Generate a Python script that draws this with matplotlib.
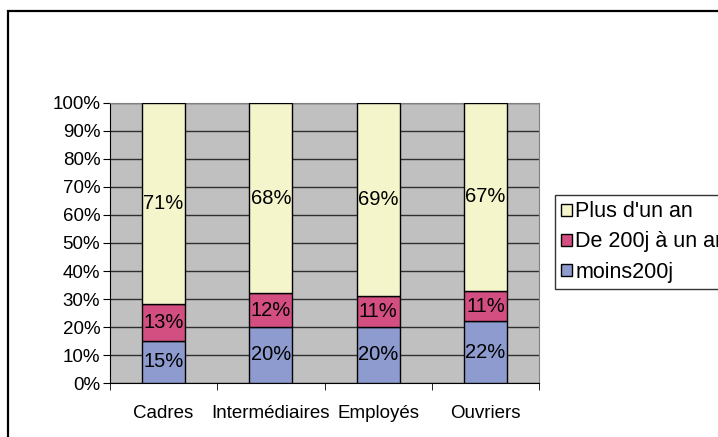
import numpy as np
import matplotlib.pyplot as plt
from matplotlib.patches import Rectangle

categories = ['Cadres', 'Interm\u00e9diaires', 'Employ\u00e9s', 'Ouvriers']
moins200j = [15, 20, 20, 22]
de200j = [13, 12, 11, 11]
plus_an = [71, 68, 69, 67]
series_names = ['moins200j', 'De 200j \u00e0 un an', "Plus d'un an"]
colors = ['#8e9bcf', '#d34f82', '#f5f5cc']

plt.rcParams['font.family'] = ['Liberation Sans', 'DejaVu Sans']
plt.rcParams['font.size'] = 13.5

data = np.array([moins200j, de200j, plus_an], dtype=float)
pct = data / data.sum(axis=0) * 100  # 100% stacked

fig = plt.figure(figsize=(7.18, 4.37), dpi=100)
ax = fig.add_axes([110 / 718, 54 / 437, 429 / 718, 280 / 437])
ax.set_facecolor('#c0c0c0')

x = np.arange(len(categories))
bottom = np.zeros(len(categories))
bars = []
for i in range(3):
    b = ax.bar(x, pct[i], 0.4, bottom=bottom, color=colors[i],
               edgecolor='black', linewidth=1, label=series_names[i], zorder=3)
    bars.append(b)
    for j in range(len(categories)):
        ax.text(x[j], bottom[j] + pct[i][j] / 2, '%d%%' % data[i][j],
                ha='center', va='center', fontsize=14.5, zorder=4)
    bottom += pct[i]

ax.set_xlim(-0.5, len(categories) - 0.5)
ax.set_ylim(0, 100)
ax.set_yticks(np.arange(0, 101, 10))
ax.set_yticklabels(['%d%%' % v for v in range(0, 101, 10)])
ax.yaxis.grid(True, color='#303030', linewidth=1, zorder=1)
ax.set_axisbelow(True)

ax.set_xticks(x)
ax.set_xticklabels(categories)
ax.set_xticks(np.arange(-0.5, len(categories)), minor=True)
ax.tick_params(axis='x', which='major', length=0, pad=16)
ax.tick_params(axis='x', which='minor', length=5, color='black', direction='out')
ax.tick_params(axis='y', length=5, direction='out', pad=2)

for s in ['top', 'right']:
    ax.spines[s].set_color('#808080')
for s in ['left', 'bottom']:
    ax.spines[s].set_color('black')

# legend runs off the right edge, as in the original
handles = [bars[2], bars[1], bars[0]]
leg = fig.legend(handles, [series_names[2], series_names[1], series_names[0]],
                 loc='upper left', bbox_to_anchor=(555 / 718, 1 - 195 / 437),
                 bbox_transform=fig.transFigure, borderaxespad=0,
                 frameon=True, fancybox=False, edgecolor='black',
                 fontsize=15.5, handlelength=0.5, handleheight=0.5,
                 handletextpad=0.15, labelspacing=0.42, borderpad=0.3)
leg.get_frame().set_linewidth(1)

fig.patches.append(Rectangle((8 / 718, -0.5), 2, 0.5 + 1 - 11 / 437,
                             transform=fig.transFigure, fill=False,
                             edgecolor='black', linewidth=1.6))

fig.savefig('out.png', dpi=100)
